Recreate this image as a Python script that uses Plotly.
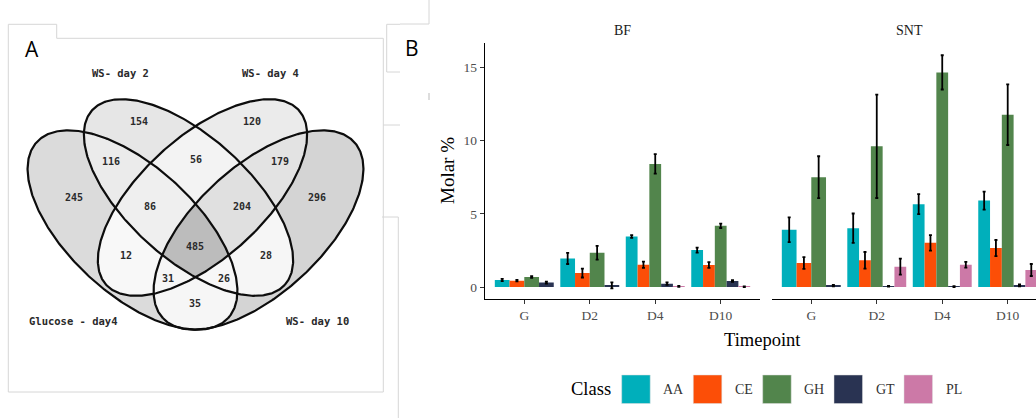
import numpy as np
import plotly.graph_objects as go

# ---------------- Panel A data (Venn) ----------------
set_names = ["Glucose - day4", "WS- day 2", "WS- day 4", "WS- day 10"]
# membership code order: Glucose, WS day2, WS day4, WS day10
region_codes = ["1000", "0100", "0010", "0001", "1100", "0110", "0011",
                "1110", "0111", "1010", "0101", "1111", "1011", "1101", "1001"]
region_counts = [245, 154, 120, 296, 116, 56, 179, 86, 204, 12, 28, 485, 31, 26, 35]

# ---------------- Panel B data (bars) ----------------
timepoints = ["G", "D2", "D4", "D10"]
classes = ["AA", "CE", "GH", "GT", "PL"]
class_colors = ["#00AFBB", "#FC4E07", "#52854C", "#293352", "#CC79A7"]
facets = ["BF", "SNT"]

bf_AA = [0.48, 1.95, 3.45, 2.52]
bf_CE = [0.43, 0.95, 1.52, 1.50]
bf_GH = [0.68, 2.34, 8.41, 4.18]
bf_GT = [0.30, 0.11, 0.23, 0.41]
bf_PL = [None, None, 0.04, 0.02]
bf_AA_se = [0.08, 0.38, 0.09, 0.17]
bf_CE_se = [0.05, 0.30, 0.22, 0.20]
bf_GH_se = [0.06, 0.47, 0.66, 0.15]
bf_GT_se = [0.07, 0.20, 0.08, 0.05]
bf_PL_se = [None, None, 0.03, 0.02]

snt_AA = [3.91, 4.02, 5.66, 5.90]
snt_CE = [1.64, 1.82, 3.02, 2.66]
snt_GH = [7.50, 9.61, 14.66, 11.77]
snt_GT = [0.09, 0.05, 0.02, 0.11]
snt_PL = [None, 1.39, 1.52, 1.16]
snt_AA_se = [0.85, 1.00, 0.68, 0.61]
snt_CE_se = [0.40, 0.57, 0.53, 0.55]
snt_GH_se = [1.43, 3.53, 1.17, 2.07]
snt_GT_se = [0.05, 0.03, 0.03, 0.06]
snt_PL_se = [None, 0.55, 0.20, 0.41]

y_ticks = [0, 5, 10, 15]

# ---------------- layout geometry ----------------
W, H = 1036, 418
def px(x):
    return x / W
def py(y):
    return 1 - y / H

# ellipses: (cx, cy), semi-major, semi-minor, angle (deg, image coords y down)
ellipses = [((132.5, 230.0), 130.0, 63.6, 42.6),
            ((188.5, 197.5), 130.0, 61.0, 42.2),
            ((202.5, 197.5), 130.0, 61.0, 137.8),
            ((258.5, 230.0), 130.0, 63.6, 137.4)]
region_label_pos = {
    "1000": (74, 197), "0100": (139.3, 121.7), "0010": (252.3, 121.7), "0001": (317, 197),
    "1100": (111, 161.5), "0110": (195.7, 159), "0011": (280, 161.5),
    "1110": (150, 206), "0111": (241.7, 206), "1010": (125.7, 255), "0101": (265.7, 255),
    "1111": (195.3, 246), "1011": (167.7, 278), "1101": (224, 278), "1001": (195, 303.3)}
set_label_pos = [(73.3, 321), (120.3, 73.3), (270, 73.3), (317, 321)]

fig = go.Figure()

# Venn shading (regions coloured by count)
gx = np.arange(15, 380) + 0.5
gy = np.arange(85, 340) + 0.5
GX, GY = np.meshgrid(gx, gy)
inside = []
for (cx, cy), a, b, ang in ellipses:
    t = np.radians(ang)
    dx, dy = GX - cx, GY - cy
    u = dx * np.cos(t) + dy * np.sin(t)
    v = -dx * np.sin(t) + dy * np.cos(t)
    inside.append((u / a) ** 2 + (v / b) ** 2 <= 1)
Z = np.full(GX.shape, np.nan)
for code, cnt in zip(region_codes, region_counts):
    m = np.ones(GX.shape, dtype=bool)
    for i, ch in enumerate(code):
        m &= inside[i] if ch == "1" else ~inside[i]
    Z[m] = cnt
Zl = [[None if np.isnan(v) else float(v) for v in row] for row in Z]
fig.add_trace(go.Heatmap(x=gx, y=gy, z=Zl, zmin=0, zmax=max(region_counts),
                         colorscale=[[0, "rgb(250,250,250)"], [1, "rgb(188,188,188)"]],
                         showscale=False, hoverinfo="skip", xaxis="x", yaxis="y"))

# ellipse outlines
tt = np.linspace(0, 2 * np.pi, 400)
for (cx, cy), a, b, ang in ellipses:
    t = np.radians(ang)
    ex = cx + a * np.cos(tt) * np.cos(t) - b * np.sin(tt) * np.sin(t)
    ey = cy + a * np.cos(tt) * np.sin(t) + b * np.sin(tt) * np.cos(t)
    fig.add_trace(go.Scatter(x=ex, y=ey, mode="lines", line=dict(color="#0d0d0d", width=2.2),
                             hoverinfo="skip", showlegend=False, xaxis="x", yaxis="y"))

annotations = []
for code, cnt in zip(region_codes, region_counts):
    x, y = region_label_pos[code]
    annotations.append(dict(x=x, y=y, xref="x", yref="y", text=str(cnt), showarrow=False,
                            font=dict(family="DejaVu Sans Mono", size=10, color="#2a2a2a", weight="bold"),
                            xanchor="center", yanchor="middle"))
for name, (x, y) in zip(set_names, set_label_pos):
    annotations.append(dict(x=x, y=y, xref="x", yref="y", text=name, showarrow=False,
                            font=dict(family="DejaVu Sans Mono", size=10.5, color="#2a2a2a", weight="bold"),
                            xanchor="center", yanchor="middle"))

# ---------------- bars ----------------
facet_data = {
    "BF": ({"AA": bf_AA, "CE": bf_CE, "GH": bf_GH, "GT": bf_GT, "PL": bf_PL},
           {"AA": bf_AA_se, "CE": bf_CE_se, "GH": bf_GH_se, "GT": bf_GT_se, "PL": bf_PL_se}, "x2", "y2"),
    "SNT": ({"AA": snt_AA, "CE": snt_CE, "GH": snt_GH, "GT": snt_GT, "PL": snt_PL},
            {"AA": snt_AA_se, "CE": snt_CE_se, "GH": snt_GH_se, "GT": snt_GT_se, "PL": snt_PL_se}, "x3", "y3"),
}
for fac in facets:
    vals, errs, xa, ya = facet_data[fac]
    for cls, col in zip(classes, class_colors):
        bx, by, bw, be = [], [], [], []
        for i, tp in enumerate(timepoints):
            if vals[cls][i] is None:
                continue
            present = [c for c in classes if vals[c][i] is not None]
            n = len(present)
            w = 0.9 / n
            j = present.index(cls)
            bx.append(i + 1 - 0.45 + (j + 0.5) * w)
            by.append(vals[cls][i])
            bw.append(w)
            be.append(errs[cls][i])
        fig.add_trace(go.Bar(x=bx, y=by, width=bw, marker=dict(color=col, line=dict(width=0)),
                             error_y=dict(type="data", array=be, color="black", thickness=1.8, width=1.5),
                             showlegend=False, hoverinfo="skip", xaxis=xa, yaxis=ya))

serif = "Liberation Serif"
tickfont = dict(family=serif, size=13.5, color="#4d4d4d")
ydom = [py(298.5), py(43)]
yrange = [-(298.5 - 287) / 14.64, (287 - 43) / 14.64]
px_per_cat = 275 / 4.2

axis_common = dict(showgrid=False, zeroline=False, showline=True, linecolor="black", linewidth=1.4,
                   ticks="outside", ticklen=4, tickwidth=1, tickcolor="#333333", tickfont=tickfont)

fig.update_layout(
    width=W, height=H, margin=dict(l=0, r=0, t=0, b=0),
    paper_bgcolor="white", plot_bgcolor="rgba(0,0,0,0)",
    barmode="overlay", showlegend=False,
    xaxis=dict(domain=[0, px(400)], range=[0, 400], visible=False, fixedrange=True),
    yaxis=dict(domain=[0, 1], range=[418, 0], visible=False, fixedrange=True),
    xaxis2=dict(domain=[px(485), px(760)], range=[0.4, 4.6], anchor="y2",
                tickvals=[1, 2, 3, 4], ticktext=timepoints, **axis_common),
    yaxis2=dict(domain=ydom, range=yrange, anchor="x2", tickvals=y_ticks,
                ticktext=[str(v) for v in y_ticks], **axis_common),
    xaxis3=dict(domain=[px(772), 1], range=[0.4, 0.4 + (W - 772) / px_per_cat], anchor="y3",
                tickvals=[1, 2, 3, 4], ticktext=timepoints, **axis_common),
    yaxis3=dict(domain=ydom, range=yrange, anchor="x3", visible=False),
)

# facet strips, titles
annotations += [
    dict(x=px(622.5), y=py(30), xref="paper", yref="paper", text="BF", showarrow=False,
         font=dict(family=serif, size=14, color="#1a1a1a"), xanchor="center", yanchor="middle"),
    dict(x=px(909), y=py(30), xref="paper", yref="paper", text="SNT", showarrow=False,
         font=dict(family=serif, size=14, color="#1a1a1a"), xanchor="center", yanchor="middle"),
    dict(x=px(762), y=py(340), xref="paper", yref="paper", text="Timepoint", showarrow=False,
         font=dict(family=serif, size=18.5, color="black"), xanchor="center", yanchor="middle"),
    dict(x=px(447), y=py(171), xref="paper", yref="paper", text="Molar %", showarrow=False, textangle=-90,
         font=dict(family=serif, size=19, color="black"), xanchor="center", yanchor="middle"),
    dict(x=px(31.5), y=py(49), xref="paper", yref="paper", text="A", showarrow=False,
         font=dict(family="Open Sans", size=21, color="black"), xanchor="center", yanchor="middle"),
    dict(x=px(412), y=py(48), xref="paper", yref="paper", text="B", showarrow=False,
         font=dict(family="Open Sans", size=21, color="black"), xanchor="center", yanchor="middle"),
    dict(x=px(590.5), y=py(389), xref="paper", yref="paper", text="Class", showarrow=False,
         font=dict(family=serif, size=18.5, color="black"), xanchor="center", yanchor="middle"),
]

# custom legend
shapes = []
key_left = [621.7, 693.3, 762.7, 834.0, 904.0]
for cls, col, kx in zip(classes, class_colors, key_left):
    shapes.append(dict(type="rect", xref="paper", yref="paper", x0=px(kx), x1=px(kx + 28.5),
                       y0=py(403.5), y1=py(375), fillcolor=col, line=dict(width=0.5, color="#dddddd")))
    annotations.append(dict(x=px(kx + 39.5), y=py(389.5), xref="paper", yref="paper", text=cls,
                            showarrow=False, font=dict(family=serif, size=14, color="#333333"),
                            xanchor="left", yanchor="middle"))

# panel frames (light grey)
frame = "#d6d6d6"
shapes += [
    dict(type="path", xref="paper", yref="paper",
         path=f"M {px(8.3)},{py(392)} L {px(8.3)},{py(24.3)} L {px(56.7)},{py(24.3)} L {px(56.7)},{py(38.3)} "
              f"L {px(383.3)},{py(38.3)} L {px(383.3)},{py(392)} Z",
         line=dict(color=frame, width=1)),
    dict(type="path", xref="paper", yref="paper",
         path=f"M {px(400)},{py(24.3)} L {px(386.7)},{py(24.3)} L {px(386.7)},{py(72)} L {px(400)},{py(72)}",
         line=dict(color=frame, width=1)),
    dict(type="path", xref="paper", yref="paper",
         path=f"M {px(383.3)},{py(125)} L {px(400)},{py(125)}",
         line=dict(color=frame, width=1)),
    dict(type="path", xref="paper", yref="paper",
         path=f"M {px(382)},{py(217)} L {px(398.3)},{py(217)} L {px(398.3)},{py(418)}",
         line=dict(color=frame, width=1)),
    dict(type="path", xref="paper", yref="paper",
         path=f"M {px(400)},{py(24)} L {px(429)},{py(24)} L {px(429)},{py(0)}",
         line=dict(color=frame, width=1)),
    dict(type="line", xref="paper", yref="paper", x0=px(429), x1=px(429), y0=py(93), y1=py(100),
         line=dict(color="#bbbbbb", width=1)),
]

fig.update_layout(annotations=annotations, shapes=shapes)
fig.write_html("out.html", config={"displayModeBar": False},
               post_script="document.body.style.margin='0';document.body.style.padding='0';"
                           "document.body.style.overflow='hidden';")
